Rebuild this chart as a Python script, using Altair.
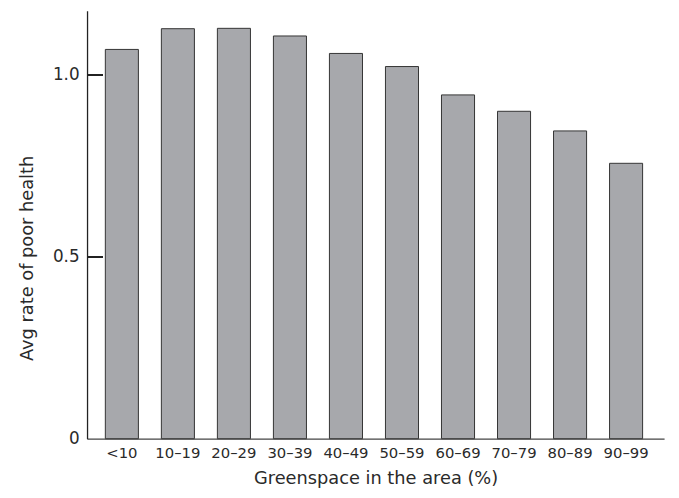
import altair as alt
import pandas as pd

categories = ["<10", "10–19", "20–29", "30–39", "40–49", "50–59", "60–69", "70–79", "80–89", "90–99"]
values = [1.070, 1.127, 1.128, 1.107, 1.059, 1.023, 0.945, 0.900, 0.846, 0.757]
ytick_values = [0, 0.5, 1.0]

df = pd.DataFrame({"cat": categories, "val": values})

FONT = "DejaVu Sans"
TEXT = "#2a2a2a"

yscale = alt.Scale(domain=[0, 1.176], nice=False, zero=True)

xenc = alt.X("cat:N", sort=categories,
             scale=alt.Scale(paddingInner=0.41, paddingOuter=0.355, align=0.46),
             axis=alt.Axis(title="Greenspace in the area (%)", labelAngle=0,
                           ticks=False, tickSize=0, labelPadding=19,
                           labelBaseline="alphabetic", labelFontSize=15,
                           titleFontSize=18, titleFontWeight="normal",
                           titleBaseline="alphabetic", titleY=45,
                           domainColor="#444444", domainWidth=1.2,
                           labelColor=TEXT, titleColor=TEXT))

bars = alt.Chart(df).mark_bar(
    color="#a7a8ac", stroke="#333333", strokeWidth=1
).encode(
    x=xenc,
    y=alt.Y("val:Q", scale=yscale,
            axis=alt.Axis(title="Avg rate of poor health", values=ytick_values,
                          labelExpr="datum.value == 0 ? '0' : format(datum.value, '.1f')",
                          ticks=False, tickSize=0, labelPadding=8, labelFontSize=17,
                          titleFontSize=18, titleFontWeight="normal",
                          titleBaseline="alphabetic", titleAngle=270,
                          titleX=-55, titleY=250, grid=False,
                          domainColor="#222222", domainWidth=1.3,
                          labelColor=TEXT, titleColor=TEXT)),
)

# inward tick marks on the y axis, one rule per tick value
tick_layers = [
    alt.Chart(df).mark_rule(color="#222222", strokeWidth=1.3).encode(
        y=alt.datum(v),
        x=alt.value(0),
        x2=alt.value(16),
    )
    for v in ytick_values[1:]
]

chart = alt.layer(bars, *tick_layers).properties(
    width=584, height=433,
    autosize=alt.AutoSizeParams(type="none"),
    padding={"left": 80, "top": 0, "right": 7, "bottom": 49},
).configure(font=FONT).configure_view(stroke=None).configure_axis(grid=False)

chart.save("out.html", embed_options={"renderer": "svg", "actions": False})
